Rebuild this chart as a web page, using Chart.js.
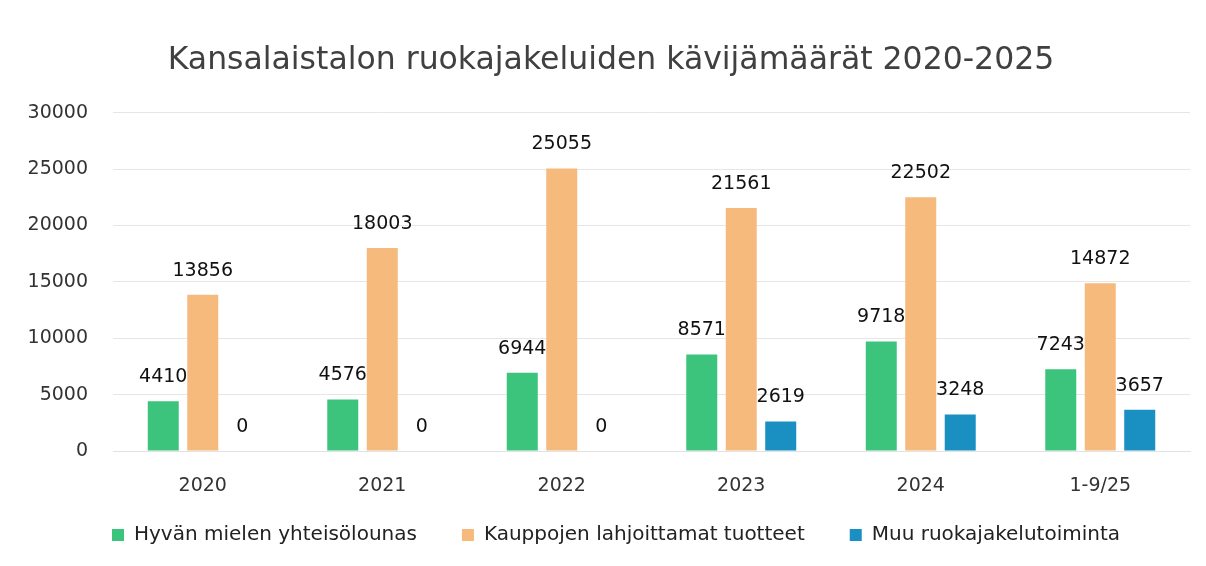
<!DOCTYPE html>
<html>
<head>
<meta charset="utf-8">
<script src="https://cdn.jsdelivr.net/npm/chart.js@4.4.1/dist/chart.umd.min.js"></script>
<style>
  html, body { margin: 0; padding: 0; background: #fff; }
  #wrap { width: 1206px; height: 566px; }
</style>
</head>
<body>
<div id="wrap"><canvas id="myChart" width="1206" height="566"></canvas></div>
<script>
// data
const years = ['2020', '2021', '2022', '2023', '2024', '1-9/25'];
const lounas = [4410, 4576, 6944, 8571, 9718, 7243];
const kaupat = [13856, 18003, 25055, 21561, 22502, 14872];
const muu = [0, 0, 0, 2619, 3248, 3657];
const yTicks = [0, 5000, 10000, 15000, 20000, 25000, 30000];

const FONT = '"DejaVu Sans", sans-serif';

// simple value labels above the bars
const valueLabels = {
    id: 'valueLabels',
    afterDatasetsDraw(chart) {
        const ctx = chart.ctx;
        ctx.save();
        ctx.font = '19px ' + FONT;
        ctx.fillStyle = '#111';
        ctx.textAlign = 'center';
        ctx.textBaseline = 'middle';
        chart.data.datasets.forEach((ds, i) => {
            const meta = chart.getDatasetMeta(i);
            meta.data.forEach((bar, j) => {
                ctx.fillText(String(ds.data[j]), bar.x, bar.y - 24);
            });
        });
        ctx.restore();
    }
};

// legend padding is big for the gaps between items, so move the legend
// back up a bit; the title sits slightly right of the middle
const nudge = {
    id: 'nudge',
    afterLayout(chart) {
        const lg = chart.legend;
        lg.top -= 17;
        lg.bottom -= 17;
        lg.left += 21;
        lg.right += 21;
        chart.titleBlock.left += 32;
    }
};

const ctx = document.getElementById('myChart').getContext('2d');
window.myChart = new Chart(ctx, {
    type: 'bar',
    data: {
        labels: years,
        datasets: [{
            label: 'Hyvän mielen yhteisölounas',
            data: lounas,
            backgroundColor: '#3cc47c'
        }, {
            label: 'Kauppojen lahjoittamat tuotteet',
            data: kaupat,
            backgroundColor: '#f5ba7c'
        }, {
            label: 'Muu ruokajakelutoiminta',
            data: muu,
            backgroundColor: '#1a90c2'
        }]
    },
    options: {
        responsive: false,
        animation: false,
        events: [],
        layout: { padding: { left: 0, right: 16, top: 0, bottom: -6 } },
        categoryPercentage: 0.66,
        barPercentage: 0.785,
        plugins: {
            title: {
                display: true,
                text: 'Kansalaistalon ruokajakeluiden kävijämäärät 2020-2025',
                color: '#404040',
                font: { family: FONT, size: 31.5, weight: 'normal' },
                padding: { top: 42, bottom: 33 }
            },
            legend: {
                position: 'bottom',
                labels: {
                    color: '#222',
                    font: { family: FONT, size: 20 },
                    boxWidth: 12,
                    boxHeight: 12,
                    padding: 45
                }
            },
            tooltip: { enabled: false }
        },
        scales: {
            x: {
                afterFit(scale) { scale.height = 46; },
                grid: { display: false, drawTicks: false },
                border: { color: '#e2e2e2' },
                ticks: { color: '#333', font: { family: FONT, size: 19 }, padding: 24 }
            },
            y: {
                min: 0,
                max: 30000,
                afterBuildTicks(scale) {
                    scale.ticks = yTicks.map(v => ({ value: v }));
                },
                afterFit(scale) { scale.width = 113; },
                grid: { color: '#e6e6e6', drawTicks: false },
                border: { display: false },
                ticks: {
                    color: '#333',
                    font: { family: FONT, size: 19 },
                    padding: 25,
                    callback: v => String(v)
                }
            }
        }
    },
    plugins: [valueLabels, nudge]
});
</script>
</body>
</html>
